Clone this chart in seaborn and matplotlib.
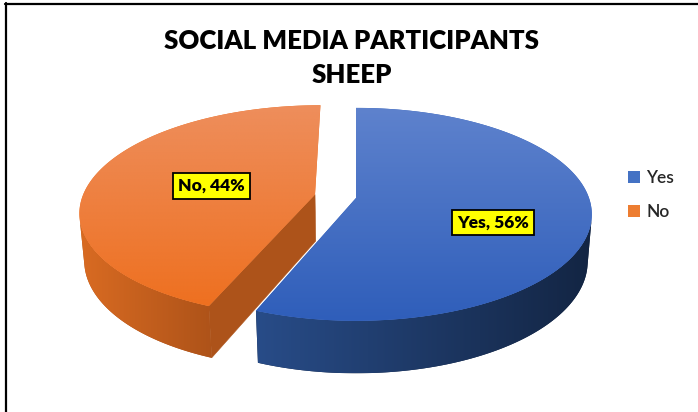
import numpy as np
import matplotlib
matplotlib.use("Agg")
import matplotlib.pyplot as plt
from matplotlib.patches import Polygon, Patch
from matplotlib.lines import Line2D
from matplotlib.colors import LinearSegmentedColormap
import seaborn as sns

# ---- data -------------------------------------------------------------
labels = ["Yes", "No"]
shares = [56, 44]
explode = [0.0, 0.18]

legend_colors = ["#4472C4", "#ED7D31"]
top_colors = [("#5E82CD", "#2F5EBA"), ("#EE8E5C", "#EE7020")]
rim_colors = [("#284C88", "#132543"), ("#D96B22", "#AE5319")]
cut_colors = ["#1C3766", "#AD531A"]
title_lines = ["SOCIAL MEDIA PARTICIPANTS", "SHEEP"]

# ---- 3-D view parameters ---------------------------------------------
ELEV = np.radians(26.5)
DIST = 5.83
THICK = 0.2276
SCALE = 233.0          # pixels per unit radius
CX, CY = 356.0, 198.0  # pixel position of the pie centre
W, H = 698, 412

cam = np.array([0.0, -DIST * np.cos(ELEV), DIST * np.sin(ELEV)])


def project(X, Y, Z):
    c, s = np.cos(ELEV), np.sin(ELEV)
    den = DIST + Y * c - Z * s
    return DIST * X / den, DIST * (Y * s + Z * c) / den


def facing(normal, point, tol=1e-9):
    v = cam - point
    return float(np.dot(normal, v)) / np.linalg.norm(v) > tol


def gradient_fill(ax, pts, c0, c1, horizontal, z, name):
    """Fill a polygon with a linear two-colour gradient."""
    pts = np.asarray(pts)
    patch = Polygon(pts, closed=True, facecolor=c1, edgecolor="none", zorder=z)
    ax.add_patch(patch)
    cmap = LinearSegmentedColormap.from_list(name, [c0, c1])
    g = np.linspace(0, 1, 256)
    grad = g.reshape(1, -1) if horizontal else g.reshape(-1, 1)
    im = ax.imshow(grad, cmap=cmap, aspect="auto", origin="upper",
                   extent=[pts[:, 0].min(), pts[:, 0].max(),
                           pts[:, 1].min(), pts[:, 1].max()],
                   zorder=z + 0.5, interpolation="bilinear")
    im.set_clip_path(patch)


sns.set_theme(style="white")
plt.rcParams["font.family"] = ["Lato", "DejaVu Sans"]

fig = plt.figure(figsize=(W / 100, H / 100), dpi=100)
ax = fig.add_axes([0, 0, 1, 1])
ax.set_axis_off()

z = 1
start = 90.0
for i, (lab, share) in enumerate(zip(labels, shares)):
    span = share * 3.6
    th1 = start
    th2 = start - span
    start = th2
    mid = np.radians((th1 + th2) / 2)
    ox, oy = explode[i] * np.cos(mid), explode[i] * np.sin(mid)
    angs = np.radians(np.linspace(th1, th2, 400))
    rx, ry = ox + np.cos(angs), oy + np.sin(angs)

    # cut faces along the two radii (only those clearly turned to the viewer)
    for th, nsign in ((th1, +1), (th2, -1)):
        t = np.radians(th)
        n = np.array([np.cos(t + nsign * np.pi / 2), np.sin(t + nsign * np.pi / 2), 0.0])
        pr = np.array([ox + np.cos(t), oy + np.sin(t), 0.0])
        pc = np.array([ox, oy, 0.0])
        if facing(n, (pr + pc) / 2, tol=0.05):
            pts = [project(ox, oy, 0), project(pr[0], pr[1], 0),
                   project(pr[0], pr[1], -THICK), project(ox, oy, -THICK)]
            ax.add_patch(Polygon(pts, closed=True, facecolor=cut_colors[i],
                                 edgecolor=cut_colors[i], lw=0.4, zorder=z))
            z += 1

    # outer rim (front-facing part only), shaded from left to right
    vis = np.array([facing(np.array([np.cos(a), np.sin(a), 0.0]),
                           np.array([ox + np.cos(a), oy + np.sin(a), -THICK / 2]))
                    for a in angs])
    if vis.any():
        idx = np.where(vis)[0]
        tpx, tpy = project(rx[idx], ry[idx], 0)
        bpx, bpy = project(rx[idx], ry[idx], -THICK)
        rim = np.r_[np.c_[tpx, tpy], np.c_[bpx, bpy][::-1]]
        gradient_fill(ax, rim, rim_colors[i][0], rim_colors[i][1], True, z, "r%d" % i)
        z += 1

    # top face with vertical gradient
    tx, ty = project(np.r_[ox, rx], np.r_[oy, ry], 0)
    gradient_fill(ax, np.c_[tx, ty], top_colors[i][0], top_colors[i][1], False, z, "t%d" % i)
    z += 1

    # data label
    lr = [0.6, 0.45][i]
    lx, ly = project(ox + lr * np.cos(mid), oy + lr * np.sin(mid), 0)
    ax.annotate(f"{lab}, {share}%", (lx, ly), xytext=(-2, [-9, 0][i]),
                textcoords="offset points", ha="center", va="center",
                fontsize=12.5, fontweight="heavy", color="black", zorder=50,
                bbox=dict(boxstyle="square,pad=0.28", facecolor="#FFFF00",
                          edgecolor="black", linewidth=1.3))

ax.set_xlim(-CX / SCALE, (W - CX) / SCALE)
ax.set_ylim((CY - H) / SCALE, CY / SCALE)

# title
fig.text(352 / W, 1 - 49 / H, title_lines[0], ha="center", va="baseline",
         fontsize=18.5, fontweight="heavy", color="black")
fig.text(352 / W, 1 - 83 / H, title_lines[1], ha="center", va="baseline",
         fontsize=18.5, fontweight="heavy", color="black")

# legend
handles = [Patch(facecolor=c, edgecolor="none") for c in legend_colors]
fig.legend(handles, labels, loc="center left", bbox_to_anchor=(628 / W, 1 - 195 / H),
           frameon=False, handlelength=0.7, handleheight=0.7,
           handletextpad=0.35, labelspacing=1.0, borderpad=0, borderaxespad=0,
           prop=dict(family=["Lato", "DejaVu Sans"], size=12.5, weight="semibold"))

# chart frame
fig.add_artist(Line2D([5 / W, 1], [1 - 3.5 / H, 1 - 3.5 / H], color="black", lw=1.6,
                      transform=fig.transFigure))
fig.add_artist(Line2D([5.5 / W, 5.5 / W], [0, 1 - 3 / H], color="black", lw=1.6,
                      transform=fig.transFigure))

fig.savefig("out.png", dpi=100)
